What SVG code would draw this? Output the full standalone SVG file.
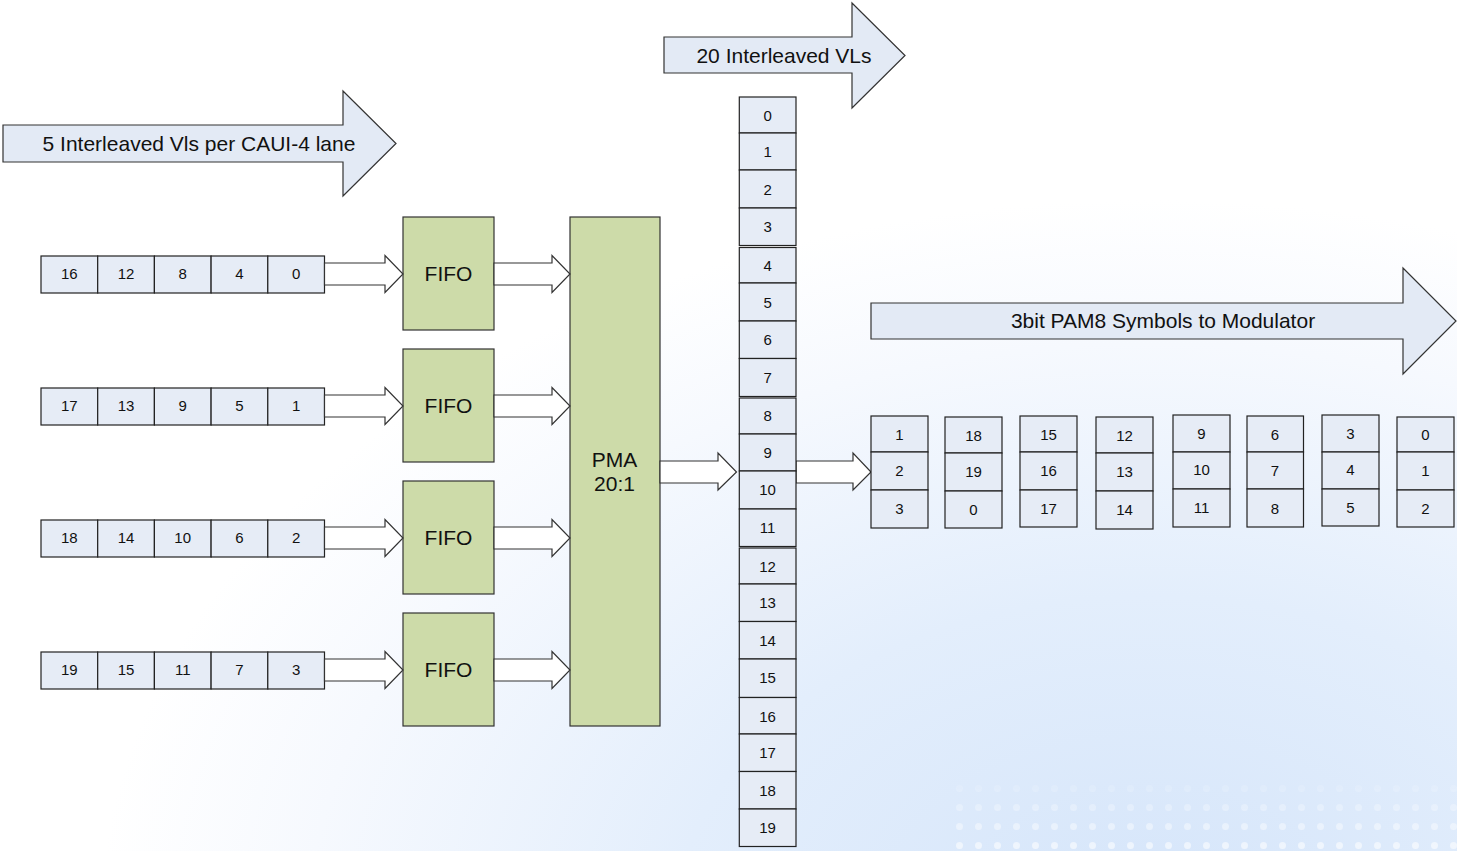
<svg xmlns="http://www.w3.org/2000/svg" width="1457" height="851" viewBox="0 0 1457 851">
<defs>
<radialGradient id="bg" gradientUnits="userSpaceOnUse" cx="0" cy="0" r="1000" gradientTransform="translate(1150 920) scale(1.05 0.72)">
<stop offset="0" stop-color="#d5e5fa"/>
<stop offset="0.45" stop-color="#e3eefc"/>
<stop offset="0.8" stop-color="#f6f9fe"/>
<stop offset="1" stop-color="#ffffff"/>
</radialGradient>
<pattern id="dots" width="19" height="19" patternUnits="userSpaceOnUse">
<circle cx="9.5" cy="9.5" r="3.5" fill="#ffffff"/>
</pattern>
<linearGradient id="dotfade" x1="0" y1="0" x2="0" y2="1">
<stop offset="0" stop-color="#fff" stop-opacity="0"/>
<stop offset="1" stop-color="#fff" stop-opacity="1"/>
</linearGradient>
<mask id="dm"><rect x="950" y="770" width="507" height="81" fill="url(#dotfade)"/></mask>
</defs>
<style>
.t{font-family:"Liberation Sans",Arial,sans-serif;fill:#111;text-anchor:middle}
.big{font-size:21px}
.num{font-size:15px}
.cell{fill:#e6ecf6;stroke:#222;stroke-width:1.2}
.blk{fill:#e3eaf5;stroke:#333;stroke-width:1.2}
.fifo{fill:#cddba9;stroke:#333;stroke-width:1.2}
.ha{fill:#ffffff;stroke:#333;stroke-width:1.2}
</style>
<rect x="0" y="0" width="1457" height="851" fill="url(#bg)"/>
<rect x="950" y="770" width="507" height="81" fill="url(#dots)" mask="url(#dm)" opacity="0.6"/>

<g id="arrow-caui">
<polygon class="blk" points="3,125 343,125 343,91 396,143.5 343,196 343,162 3,162"/>
<text class="t big" x="199" y="150.5">5 Interleaved Vls per CAUI-4 lane</text>
</g>
<g id="arrow-vls">
<polygon class="blk" points="664,37 852,37 852,3 905,55.5 852,108 852,73 664,73"/>
<text class="t big" x="784" y="62.5">20 Interleaved VLs</text>
</g>
<g id="arrow-pam8">
<polygon class="blk" points="871,303 1403,303 1403,268 1456,321 1403,374 1403,339 871,339"/>
<text class="t big" x="1163" y="328">3bit PAM8 Symbols to Modulator</text>
</g>

<g id="lane0">
<rect class="cell" x="41" y="256" width="56.7" height="37"/><rect class="cell" x="97.7" y="256" width="56.7" height="37"/><rect class="cell" x="154.4" y="256" width="56.7" height="37"/><rect class="cell" x="211.1" y="256" width="56.7" height="37"/><rect class="cell" x="267.8" y="256" width="56.7" height="37"/>
<text class="t num" x="69.3" y="279">16</text><text class="t num" x="126" y="279">12</text><text class="t num" x="182.7" y="279">8</text><text class="t num" x="239.4" y="279">4</text><text class="t num" x="296.1" y="279">0</text>
</g>
<g id="lane1">
<rect class="cell" x="41" y="388" width="56.7" height="37"/><rect class="cell" x="97.7" y="388" width="56.7" height="37"/><rect class="cell" x="154.4" y="388" width="56.7" height="37"/><rect class="cell" x="211.1" y="388" width="56.7" height="37"/><rect class="cell" x="267.8" y="388" width="56.7" height="37"/>
<text class="t num" x="69.3" y="411">17</text><text class="t num" x="126" y="411">13</text><text class="t num" x="182.7" y="411">9</text><text class="t num" x="239.4" y="411">5</text><text class="t num" x="296.1" y="411">1</text>
</g>
<g id="lane2">
<rect class="cell" x="41" y="520" width="56.7" height="37"/><rect class="cell" x="97.7" y="520" width="56.7" height="37"/><rect class="cell" x="154.4" y="520" width="56.7" height="37"/><rect class="cell" x="211.1" y="520" width="56.7" height="37"/><rect class="cell" x="267.8" y="520" width="56.7" height="37"/>
<text class="t num" x="69.3" y="543">18</text><text class="t num" x="126" y="543">14</text><text class="t num" x="182.7" y="543">10</text><text class="t num" x="239.4" y="543">6</text><text class="t num" x="296.1" y="543">2</text>
</g>
<g id="lane3">
<rect class="cell" x="41" y="652" width="56.7" height="37"/><rect class="cell" x="97.7" y="652" width="56.7" height="37"/><rect class="cell" x="154.4" y="652" width="56.7" height="37"/><rect class="cell" x="211.1" y="652" width="56.7" height="37"/><rect class="cell" x="267.8" y="652" width="56.7" height="37"/>
<text class="t num" x="69.3" y="675">19</text><text class="t num" x="126" y="675">15</text><text class="t num" x="182.7" y="675">11</text><text class="t num" x="239.4" y="675">7</text><text class="t num" x="296.1" y="675">3</text>
</g>

<g id="fifo0"><rect class="fifo" x="403" y="217" width="91" height="113"/><text class="t big" x="448.5" y="281">FIFO</text></g>
<g id="fifo1"><rect class="fifo" x="403" y="349" width="91" height="113"/><text class="t big" x="448.5" y="413">FIFO</text></g>
<g id="fifo2"><rect class="fifo" x="403" y="481" width="91" height="113"/><text class="t big" x="448.5" y="545">FIFO</text></g>
<g id="fifo3"><rect class="fifo" x="403" y="613" width="91" height="113"/><text class="t big" x="448.5" y="677">FIFO</text></g>

<g id="pma"><rect class="fifo" x="570" y="217" width="90" height="509"/>
<text class="t big" x="614.5" y="467">PMA</text><text class="t big" x="614.5" y="491">20:1</text></g>

<g id="connectors">
<polygon class="ha" points="324.5,263 385,263 385,255.5 403,274 385,292.5 385,285 324.5,285"/>
<polygon class="ha" points="324.5,395 385,395 385,387.5 403,406 385,424.5 385,417 324.5,417"/>
<polygon class="ha" points="324.5,527 385,527 385,519.5 403,538 385,556.5 385,549 324.5,549"/>
<polygon class="ha" points="324.5,659 385,659 385,651.5 403,670 385,688.5 385,681 324.5,681"/>
<polygon class="ha" points="494,263 552,263 552,255.5 570,274 552,292.5 552,285 494,285"/>
<polygon class="ha" points="494,395 552,395 552,387.5 570,406 552,424.5 552,417 494,417"/>
<polygon class="ha" points="494,527 552,527 552,519.5 570,538 552,556.5 552,549 494,549"/>
<polygon class="ha" points="494,659 552,659 552,651.5 570,670 552,688.5 552,681 494,681"/>
<polygon class="ha" points="660,461 718,461 718,453 736.5,472 718,490 718,483 660,483"/>
<polygon class="ha" points="796,461 853,461 853,453 871,472 853,490 853,483 796,483"/>
</g>

<g id="vl-column">
<rect class="cell" x="739.3" y="97" width="56.7" height="36"/><text class="t num" x="767.6" y="120.5">0</text>
<rect class="cell" x="739.3" y="133" width="56.7" height="37"/><text class="t num" x="767.6" y="157">1</text>
<rect class="cell" x="739.3" y="170" width="56.7" height="38"/><text class="t num" x="767.6" y="194.5">2</text>
<rect class="cell" x="739.3" y="208" width="56.7" height="37.5"/><text class="t num" x="767.6" y="232">3</text>
<rect class="cell" x="739.3" y="247.5" width="56.7" height="35.5"/><text class="t num" x="767.6" y="270.5">4</text>
<rect class="cell" x="739.3" y="283" width="56.7" height="38"/><text class="t num" x="767.6" y="307.5">5</text>
<rect class="cell" x="739.3" y="321" width="56.7" height="37.5"/><text class="t num" x="767.6" y="345">6</text>
<rect class="cell" x="739.3" y="358.5" width="56.7" height="38"/><text class="t num" x="767.6" y="383">7</text>
<rect class="cell" x="739.3" y="398" width="56.7" height="36"/><text class="t num" x="767.6" y="421">8</text>
<rect class="cell" x="739.3" y="434" width="56.7" height="37"/><text class="t num" x="767.6" y="457.5">9</text>
<rect class="cell" x="739.3" y="471" width="56.7" height="38"/><text class="t num" x="767.6" y="495">10</text>
<rect class="cell" x="739.3" y="509" width="56.7" height="37.5"/><text class="t num" x="767.6" y="533">11</text>
<rect class="cell" x="739.3" y="548" width="56.7" height="36"/><text class="t num" x="767.6" y="571.5">12</text>
<rect class="cell" x="739.3" y="584" width="56.7" height="37.5"/><text class="t num" x="767.6" y="608">13</text>
<rect class="cell" x="739.3" y="621.5" width="56.7" height="37.5"/><text class="t num" x="767.6" y="645.5">14</text>
<rect class="cell" x="739.3" y="659" width="56.7" height="38.5"/><text class="t num" x="767.6" y="683">15</text>
<rect class="cell" x="739.3" y="697.5" width="56.7" height="36.5"/><text class="t num" x="767.6" y="721.5">16</text>
<rect class="cell" x="739.3" y="734" width="56.7" height="37.5"/><text class="t num" x="767.6" y="758">17</text>
<rect class="cell" x="739.3" y="771.5" width="56.7" height="37.5"/><text class="t num" x="767.6" y="795.5">18</text>
<rect class="cell" x="739.3" y="809" width="56.7" height="37.5"/><text class="t num" x="767.6" y="833">19</text>
</g>

<g id="sym0">
<rect class="cell" x="871" y="416" width="57" height="36"/><rect class="cell" x="871" y="452" width="57" height="38"/><rect class="cell" x="871" y="490" width="57" height="38"/>
<text class="t num" x="899.5" y="439.5">1</text><text class="t num" x="899.5" y="476">2</text><text class="t num" x="899.5" y="514">3</text>
</g>
<g id="sym1">
<rect class="cell" x="945" y="417" width="57" height="36"/><rect class="cell" x="945" y="453" width="57" height="38"/><rect class="cell" x="945" y="491" width="57" height="37"/>
<text class="t num" x="973.5" y="440.5">18</text><text class="t num" x="973.5" y="477">19</text><text class="t num" x="973.5" y="515">0</text>
</g>
<g id="sym2">
<rect class="cell" x="1020" y="416" width="57" height="36"/><rect class="cell" x="1020" y="452" width="57" height="38"/><rect class="cell" x="1020" y="490" width="57" height="37"/>
<text class="t num" x="1048.5" y="439.5">15</text><text class="t num" x="1048.5" y="476">16</text><text class="t num" x="1048.5" y="514">17</text>
</g>
<g id="sym3">
<rect class="cell" x="1096" y="417" width="57" height="36"/><rect class="cell" x="1096" y="453" width="57" height="38"/><rect class="cell" x="1096" y="491" width="57" height="38"/>
<text class="t num" x="1124.5" y="440.5">12</text><text class="t num" x="1124.5" y="477">13</text><text class="t num" x="1124.5" y="515">14</text>
</g>
<g id="sym4">
<rect class="cell" x="1173" y="415" width="57" height="37"/><rect class="cell" x="1173" y="452" width="57" height="37"/><rect class="cell" x="1173" y="489" width="57" height="38"/>
<text class="t num" x="1201.5" y="439">9</text><text class="t num" x="1201.5" y="475">10</text><text class="t num" x="1201.5" y="513">11</text>
</g>
<g id="sym5">
<rect class="cell" x="1247" y="416" width="56.5" height="36"/><rect class="cell" x="1247" y="452" width="56.5" height="37"/><rect class="cell" x="1247" y="489" width="56.5" height="38"/>
<text class="t num" x="1275" y="440">6</text><text class="t num" x="1275" y="476">7</text><text class="t num" x="1275" y="514">8</text>
</g>
<g id="sym6">
<rect class="cell" x="1322" y="415" width="57" height="37"/><rect class="cell" x="1322" y="452" width="57" height="37"/><rect class="cell" x="1322" y="489" width="57" height="37"/>
<text class="t num" x="1350.5" y="439">3</text><text class="t num" x="1350.5" y="475">4</text><text class="t num" x="1350.5" y="513">5</text>
</g>
<g id="sym7">
<rect class="cell" x="1397" y="417" width="57" height="35"/><rect class="cell" x="1397" y="452" width="57" height="38"/><rect class="cell" x="1397" y="490" width="57" height="37"/>
<text class="t num" x="1425.5" y="440">0</text><text class="t num" x="1425.5" y="476">1</text><text class="t num" x="1425.5" y="514">2</text>
</g>
</svg>
